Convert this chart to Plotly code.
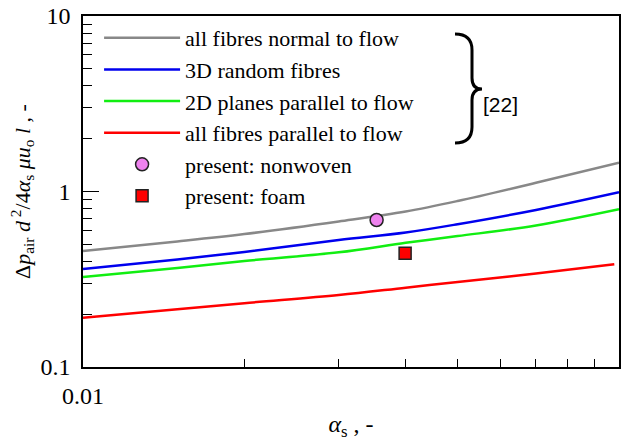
import plotly.graph_objects as go

alpha_s = [0.01, 0.015, 0.02, 0.03, 0.04, 0.05, 0.07, 0.1]
normal_to_flow = [0.458, 0.519, 0.572, 0.675, 0.769, 0.883, 1.121, 1.46]
random_3d = [0.362, 0.41, 0.452, 0.529, 0.584, 0.651, 0.785, 0.99]
planes_2d = [0.326, 0.367, 0.402, 0.450, 0.510, 0.557, 0.640, 0.792]
alpha_s_par = [0.01, 0.015, 0.02, 0.03, 0.04, 0.05, 0.07, 0.098]
parallel_to_flow = [0.191, 0.213, 0.231, 0.257, 0.283, 0.305, 0.341, 0.385]

nonwoven_x = [0.0353]
nonwoven_y = [0.688]
foam_x = [0.0399]
foam_y = [0.445]

serif = "Liberation Serif"
fig = go.Figure()
lines = [
    ("all fibres normal to flow", alpha_s, normal_to_flow, "#888888"),
    ("3D random fibres", alpha_s, random_3d, "#0000ee"),
    ("2D planes parallel to flow", alpha_s, planes_2d, "#11ee11"),
    ("all fibres parallel to flow", alpha_s_par, parallel_to_flow, "#ff0000"),
]
for i, (name, xs, ys, c) in enumerate(lines):
    fig.add_trace(go.Scatter(x=xs, y=ys, mode="lines", name=name, legendgroup=str(i),
                             line=dict(color=c, width=2.5, shape="spline")))
fig.add_trace(go.Scatter(x=nonwoven_x, y=nonwoven_y, mode="markers", name="present: nonwoven",
                         legendgroup="4",
                         marker=dict(symbol="circle", size=13, color="#ee82ee",
                                     line=dict(color="#222222", width=1.5))))
fig.add_trace(go.Scatter(x=foam_x, y=foam_y, mode="markers", name="present: foam",
                         legendgroup="5",
                         marker=dict(symbol="square", size=12, color="#ff0000",
                                     line=dict(color="#222222", width=1.5))))

fig.update_layout(
    width=630, height=441,
    margin=dict(l=83, r=11, t=16, b=74, autoexpand=False),
    plot_bgcolor="white", paper_bgcolor="white",
    font=dict(family=serif, size=22, color="black"),
    showlegend=True,
    legend=dict(x=0.03, y=0.997, xanchor="left", yanchor="top",
                bgcolor="rgba(0,0,0,0)", font=dict(family=serif, size=22),
                traceorder="grouped", tracegroupgap=0, itemwidth=76),
    xaxis=dict(type="log", range=[-2, -1], showgrid=False, zeroline=False, automargin=False,
               showline=True, linecolor="black", linewidth=1.5, mirror=True,
               ticks="inside", ticklen=8, tickcolor="black", tickmode="linear", tick0=0, dtick=1,
               tickfont=dict(family=serif, size=24), ticklabelstandoff=6,
               minor=dict(ticks="inside", ticklen=8, tickcolor="black", dtick="D1", showgrid=False),
               title=dict(text="<i>α</i><sub>s</sub> , -", font=dict(family=serif, size=24), standoff=10)),
    yaxis=dict(type="log", range=[-1, 1], showgrid=False, zeroline=False, automargin=False,
               showline=True, linecolor="black", linewidth=1.5, mirror=True,
               ticks="inside", ticklen=16, tickcolor="black", tickmode="linear", tick0=0, dtick=1,
               tickfont=dict(family=serif, size=24), ticklabelstandoff=6,
               minor=dict(ticks="inside", ticklen=9, tickcolor="black", dtick="D1", showgrid=False),
               title=dict(text="Δ<i>p</i><sub>air</sub> <i>d</i><sup> 2</sup>/4<i>α</i><sub>s</sub> <i>μu</i><sub>o</sub> <i>l</i> , -",
                          font=dict(family=serif, size=22), standoff=4)),
)

def X(px):
    return (px - 83) / 536

def Y(py):
    return (367 - py) / 351

brace = (f"M{X(455)},{Y(34)} Q{X(472)},{Y(34)} {X(472)},{Y(50)} L{X(472)},{Y(78)} "
         f"Q{X(472)},{Y(89)} {X(482)},{Y(89)} Q{X(472)},{Y(89)} {X(472)},{Y(100)} "
         f"L{X(472)},{Y(127)} Q{X(472)},{Y(143)} {X(455)},{Y(143)}")
fig.add_shape(type="path", xref="paper", yref="paper", path=brace,
              line=dict(color="black", width=3))
fig.add_annotation(xref="paper", yref="paper", x=X(520), y=Y(91), text="[22]",
                   showarrow=False, font=dict(family="Liberation Sans", size=21, color="black"))

fig.write_html("out.html", config={"displayModeBar": False},
               post_script="document.body.style.margin='0';")
